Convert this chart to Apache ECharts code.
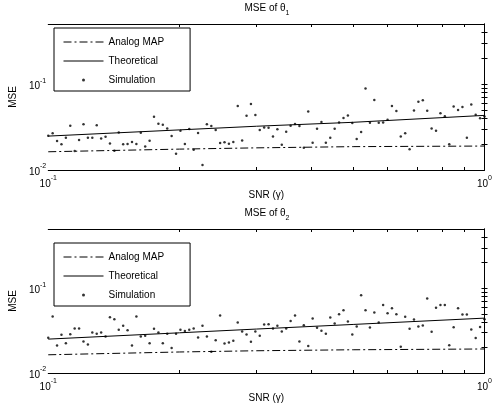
<!DOCTYPE html>
<html>
<head>
<meta charset="utf-8">
<script src="https://cdn.jsdelivr.net/npm/echarts@6/dist/echarts.min.js"></script>
<style>
  html, body { margin: 0; padding: 0; background: #fff; }
  #chart { width: 495px; height: 411px; }
</style>
</head>
<body>
<div id="chart"></div>
<script>
// SNR samples of the simulation: logspace(-1, 0, 100)
var snr = [];
for (var i = 0; i < 100; i++) snr.push(Math.pow(10, -1 + i / 99));

var curveSnr = [0.1, 0.2, 0.3, 0.5, 1];

// theta 1
var analog1 = [0.0163, 0.0175, 0.0181, 0.0187, 0.0190];
var theory1 = [0.0248, 0.0293, 0.0323, 0.0359, 0.0432];
var sim1 = [
  0.0250, 0.0267, 0.0217, 0.0199, 0.0238, 0.0328, 0.0166, 0.0223, 0.0340, 0.0238,
  0.0238, 0.0331, 0.0233, 0.0244, 0.0204, 0.0168, 0.0274, 0.0199, 0.0201, 0.0212,
  0.0201, 0.0272, 0.0188, 0.0219, 0.0417, 0.0346, 0.0337, 0.0305, 0.0248, 0.0155,
  0.0287, 0.0201, 0.0300, 0.0172, 0.0269, 0.0114, 0.0340, 0.0325, 0.0292, 0.0206,
  0.0210, 0.0202, 0.0212, 0.0555, 0.0221, 0.0428, 0.0585, 0.0436, 0.0292, 0.0313,
  0.0311, 0.0246, 0.0297, 0.0197, 0.0279, 0.0328, 0.0343, 0.0325, 0.0182, 0.0481,
  0.0208, 0.0302, 0.0362, 0.0208, 0.0238, 0.0302, 0.0358, 0.0402, 0.0432, 0.0352,
  0.0229, 0.0277, 0.0890, 0.0355, 0.0652, 0.0355, 0.0358, 0.0385, 0.0555, 0.0485,
  0.0246, 0.0267, 0.0174, 0.0494, 0.0623, 0.0646, 0.0490, 0.0305, 0.0287, 0.0456,
  0.0421, 0.0199, 0.0550, 0.0499, 0.0540, 0.0238, 0.0580, 0.0440, 0.0399, 0.0420
];

// theta 2
var analog2 = [0.0164, 0.0177, 0.0183, 0.0188, 0.0192];
var theory2 = [0.0251, 0.0298, 0.0330, 0.0374, 0.0444];
var sim2 = [
  0.0260, 0.0464, 0.0211, 0.0282, 0.0225, 0.0287, 0.0335, 0.0335, 0.0236, 0.0217,
  0.0301, 0.0290, 0.0301, 0.0270, 0.0456, 0.0431, 0.0323, 0.0360, 0.0320, 0.0211,
  0.0464, 0.0270, 0.0275, 0.0225, 0.0332, 0.0301, 0.0225, 0.0290, 0.0197, 0.0290,
  0.0323, 0.0312, 0.0323, 0.0335, 0.0263, 0.0360, 0.0270, 0.0178, 0.0244, 0.0476,
  0.0223, 0.0229, 0.0240, 0.0394, 0.0309, 0.0285, 0.0233, 0.0309, 0.0275, 0.0373,
  0.0377, 0.0335, 0.0360, 0.0309, 0.0335, 0.0412, 0.0476, 0.0236, 0.0367, 0.0208,
  0.0439, 0.0341, 0.0315, 0.0290, 0.0451, 0.0384, 0.0494, 0.0551, 0.0405, 0.0285,
  0.0354, 0.0826, 0.0551, 0.0344, 0.0517, 0.0394, 0.0636, 0.0508, 0.0581, 0.0494,
  0.0204, 0.0460, 0.0332, 0.0428, 0.0354, 0.0363, 0.0755, 0.0306, 0.0587, 0.0636,
  0.0636, 0.0213, 0.0347, 0.0581, 0.0490, 0.0490, 0.0326, 0.0258, 0.0350, 0.0430
];

// minor tick positions (log axes)
var xTicks = [0.2, 0.3, 0.4, 0.5, 0.6, 0.7, 0.8, 0.9];
var yTicks = [0.02, 0.03, 0.04, 0.05, 0.06, 0.07, 0.08, 0.09, 0.1, 0.2, 0.3, 0.4];
var xRange = [0.1, 1];
var yRange = [0.01, 0.5];

var FONT = 'Liberation Sans';
var grids = [
  { top: 24, height: 146, title: '1', legendTop: 28 },
  { top: 229, height: 144, title: '2', legendTop: 243 }
];

function pairs(xs, ys) {
  return ys.map(function (y, k) { return [xs[k], y]; });
}
function lg(list) {
  return list.map(function (v) { return Math.log10(v); });
}
// 10^n labels, blank for anything that is not a power of ten
function powLabel(v) {
  var e = Math.round(Math.log10(v));
  if (Math.abs(Math.log10(v) - e) > 1e-6) return '';
  return '{b|10}{s|' + e + '}';
}
var powRich = {
  b: { fontSize: 10, fontFamily: FONT, color: '#000', lineHeight: 14, verticalAlign: 'bottom' },
  s: { fontSize: 7, fontFamily: FONT, color: '#000', lineHeight: 14, verticalAlign: 'top' }
};
var blackLine = { lineStyle: { color: '#000', width: 1 } };

var option = {
  animation: false,
  backgroundColor: '#fff',
  color: ['#000'],
  title: [],
  legend: [],
  grid: [],
  xAxis: [],
  yAxis: [],
  series: []
};

grids.forEach(function (g, gi) {
  option.grid.push({ left: 47, right: 8, top: g.top, height: g.height });

  option.title.push({
    text: '{t|MSE of θ}{u|' + g.title + '}',
    left: 267, top: g.top - 21, textAlign: 'center', padding: 0,
    textStyle: {
      fontWeight: 'normal',
      rich: {
        t: { fontSize: 10, fontFamily: FONT, fontWeight: 'normal', color: '#000', lineHeight: 14, verticalAlign: 'top' },
        u: { fontSize: 7, fontFamily: FONT, fontWeight: 'normal', color: '#000', lineHeight: 14, verticalAlign: 'bottom' }
      }
    }
  });

  // data axes (log), with labels
  option.xAxis.push({
    gridIndex: gi, type: 'log', logBase: 10, min: xRange[0], max: xRange[1], position: 'bottom',
    axisLine: blackLine, axisTick: { show: false }, splitLine: { show: false },
    axisLabel: { formatter: powLabel, rich: powRich, margin: 5, showMaxLabel: true, showMinLabel: true },
    name: 'SNR (γ)', nameLocation: 'middle', nameGap: 17,
    nameTextStyle: { fontSize: 10, fontFamily: FONT, color: '#000', verticalAlign: 'top' }
  });
  // tick-only axes
  option.xAxis.push({
    gridIndex: gi, type: 'value', min: -1, max: 0, position: 'bottom',
    axisLine: { show: false }, splitLine: { show: false }, axisLabel: { show: false },
    axisTick: { inside: true, length: 3, customValues: lg(xTicks), lineStyle: { color: '#000' } }
  });
  option.xAxis.push({
    gridIndex: gi, type: 'value', min: -1, max: 0, position: 'top',
    axisLine: blackLine, splitLine: { show: false }, axisLabel: { show: false },
    axisTick: { inside: true, length: 3, customValues: lg(xTicks), lineStyle: { color: '#000' } }
  });

  option.yAxis.push({
    gridIndex: gi, type: 'log', logBase: 10, min: yRange[0], max: yRange[1], position: 'left',
    axisLine: blackLine, axisTick: { show: false }, splitLine: { show: false },
    axisLabel: { formatter: powLabel, rich: powRich, margin: 2 },
    name: 'MSE', nameLocation: 'middle', nameGap: 25,
    nameTextStyle: { fontSize: 10, fontFamily: FONT, color: '#000' }
  });
  option.yAxis.push({
    gridIndex: gi, type: 'value', min: -2, max: Math.log10(yRange[1]), position: 'left',
    axisLine: { show: false }, splitLine: { show: false }, axisLabel: { show: false },
    axisTick: { inside: true, length: 3, customValues: lg(yTicks), lineStyle: { color: '#000' } }
  });
  option.yAxis.push({
    gridIndex: gi, type: 'value', min: -2, max: Math.log10(yRange[1]), position: 'right',
    axisLine: blackLine, splitLine: { show: false }, axisLabel: { show: false },
    axisTick: { inside: true, length: 3, customValues: lg(yTicks), lineStyle: { color: '#000' } }
  });

  var analog = gi === 0 ? analog1 : analog2;
  var theory = gi === 0 ? theory1 : theory2;
  var sim = gi === 0 ? sim1 : sim2;

  option.series.push({
    name: 'Analog MAP', type: 'line', xAxisIndex: gi * 3, yAxisIndex: gi * 3,
    data: pairs(curveSnr, analog), symbol: 'none', silent: true, color: '#000',
    lineStyle: { color: '#000', width: 1, type: [8, 3, 2, 3] }
  });
  option.series.push({
    name: 'Theoretical', type: 'line', xAxisIndex: gi * 3, yAxisIndex: gi * 3,
    data: pairs(curveSnr, theory), symbol: 'none', silent: true, color: '#000',
    lineStyle: { color: '#000', width: 1 }
  });
  option.series.push({
    name: 'Simulation', type: 'scatter', xAxisIndex: gi * 3, yAxisIndex: gi * 3,
    data: pairs(snr, sim), symbol: 'circle', symbolSize: 2.5, silent: true, color: '#000',
    itemStyle: { color: '#000' }
  });

  option.legend.push({
    orient: 'vertical', left: 54, top: g.legendTop,
    data: [
      { name: 'Analog MAP', itemStyle: { opacity: 0 } },
      { name: 'Theoretical', itemStyle: { opacity: 0 } },
      { name: 'Simulation', icon: 'circle' }
    ],
    selectedMode: false,
    backgroundColor: '#fff', borderColor: '#000', borderWidth: 1, borderRadius: 0,
    padding: [8, 26, 5, 9],
    itemWidth: 40, itemHeight: 3, itemGap: 7,
    lineStyle: { width: 1, color: '#000' },
    textStyle: { fontSize: 10, fontFamily: FONT, color: '#000', lineHeight: 12 }
  });
});

var chart = echarts.init(document.getElementById('chart'), null, { renderer: 'canvas' });
chart.setOption(option);
</script>
</body>
</html>
